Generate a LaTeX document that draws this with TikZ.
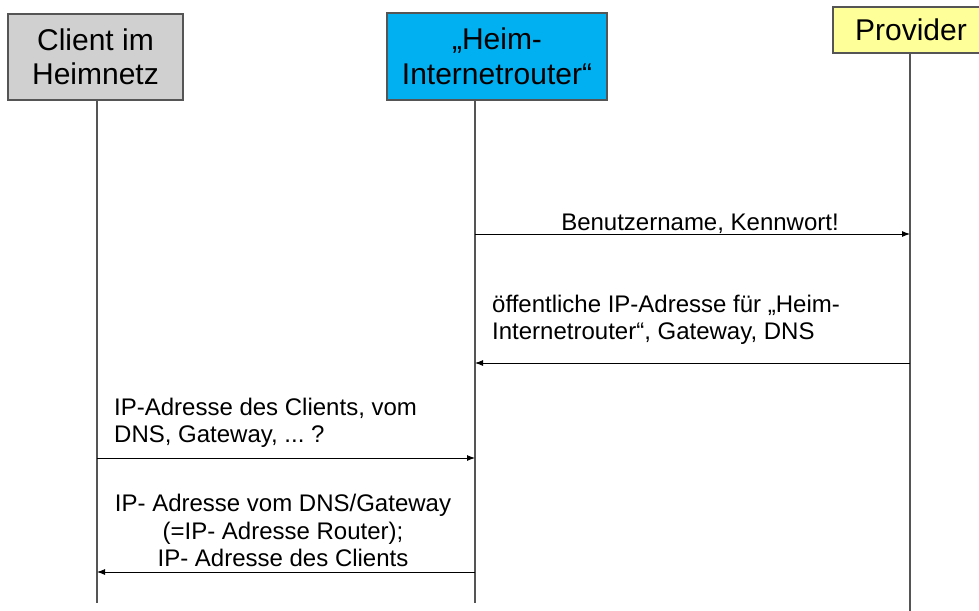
\documentclass[tikz,border=0pt]{standalone}
\usepackage{fontspec}
\setmainfont{Liberation Sans}
\usetikzlibrary{arrows.meta}
\definecolor{boxgray}{HTML}{D0D0D0}
\definecolor{boxcyan}{HTML}{00B0F0}
\definecolor{boxyellow}{HTML}{FFFF99}
\definecolor{edgegray}{HTML}{555555}
\frenchspacing
\begin{document}
\begin{tikzpicture}[x=1pt,y=-1pt,
  actor/.style={draw=edgegray,line width=1.4pt,inner sep=0pt,align=center,font=\fontsize{30}{34.5}\selectfont},
  lifeline/.style={draw=edgegray,line width=1.1pt},
  msg/.style={draw=black,line width=0.9pt,-{Latex[length=8pt,width=6pt]}},
  lbl/.style={inner sep=0pt,font=\fontsize{24}{27.5}\selectfont\frenchspacing}]
\clip (0,0) rectangle (979,610);
\fill[white] (0,0) rectangle (979,610);
% actors
\node[actor,fill=boxgray,minimum width=175pt,minimum height=86pt] (client) at (95.5,57) {Client im\\Heimnetz};
\node[actor,fill=boxcyan,minimum width=220pt,minimum height=87pt] (router) at (497,56.5) {„Heim-\\Internetrouter“};
\node[actor,fill=boxyellow,minimum width=156pt,minimum height=46pt] (provider) at (911,30) {Provider};
% lifeline ends
\coordinate (cend) at (97,603);
\coordinate (rend) at (475,603);
\coordinate (pend) at (910,612);
\draw[lifeline] (client.south -| cend) -- (cend);
\draw[lifeline] (router.south -| rend) -- (rend);
\draw[lifeline] (provider.south -| pend) -- (pend);
% message points
\coordinate (r1) at (475,234); \coordinate (p1) at (910,234);
\coordinate (p2) at (910,363); \coordinate (r2) at (475,363);
\coordinate (c3) at (97,458);  \coordinate (r3) at (475,458);
\coordinate (r4) at (475,572); \coordinate (c4) at (97,572);
\draw[msg] (r1) -- (p1);
\draw[msg] (p2) -- (r2);
\draw[msg] (c3) -- (r3);
\draw[msg] (r4) -- (c4);
% labels
\node[lbl,anchor=base] (l1) at (700,230) {Benutzername, Kennwort!};
\node[lbl,anchor=south west,align=left] (l2) at (492,345) {öffentliche IP-Adresse für „Heim-\\Internetrouter“, Gateway, DNS};
\node[lbl,anchor=south west,align=left] (l3) at (114,448) {IP-Adresse des Clients, vom\\DNS, Gateway, ... ?};
\node[lbl,anchor=south,align=center] (l4) at (283,567) {IP- Adresse vom DNS/Gateway\\(=IP- Adresse Router);\\IP- Adresse des Clients};
\end{tikzpicture}
\end{document}
